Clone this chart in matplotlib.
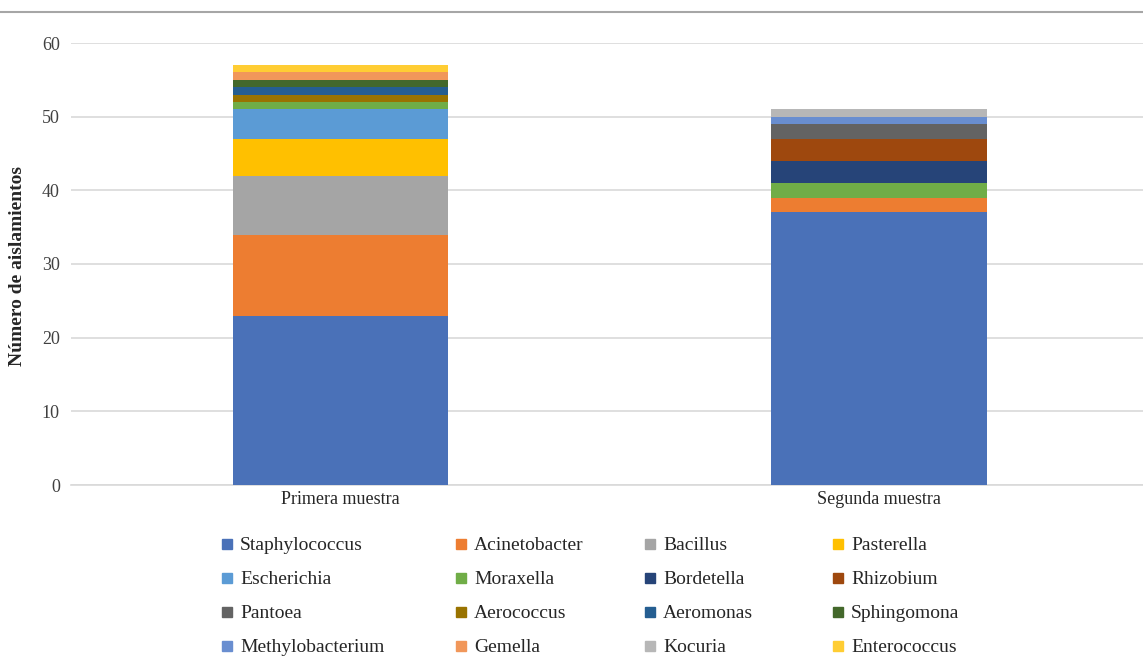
import numpy as np
import matplotlib.pyplot as plt
from matplotlib.patches import Rectangle
from matplotlib.lines import Line2D

# datos
muestras = ["Primera muestra", "Segunda muestra"]
generos = ["Staphylococcus", "Acinetobacter", "Bacillus", "Pasterella",
           "Escherichia", "Moraxella", "Bordetella", "Rhizobium",
           "Pantoea", "Aerococcus", "Aeromonas", "Sphingomona",
           "Methylobacterium", "Gemella", "Kocuria", "Enterococcus"]
primera = [23, 11, 8, 5, 4, 1, 0, 0, 0, 1, 1, 1, 0, 1, 0, 1]
segunda = [37, 2, 0, 0, 0, 2, 3, 3, 2, 0, 0, 0, 1, 0, 1, 0]
colores = ["#4A71B8", "#ED7D31", "#A5A5A5", "#FFC000", "#5B9BD5", "#70AD47",
           "#264478", "#9E480E", "#636363", "#997300", "#255E91", "#43682B",
           "#698ED0", "#F1975A", "#B7B7B7", "#FFCD33"]

plt.rcParams['font.family'] = ['Liberation Serif', 'DejaVu Serif']

fig = plt.figure(figsize=(11.43, 6.57), dpi=100)
ax = fig.add_axes([71/1143, (657-485)/657, 1 - 71/1143, (485-43)/657])

x = np.arange(len(muestras))
base = np.zeros(len(muestras))
for g, a, b, c in zip(generos, primera, segunda, colores):
    vals = np.array([a, b])
    ax.bar(x, vals, 0.4, bottom=base, color=c, label=g, zorder=3)
    base += vals

ax.set_xlim(-0.5, 1.49)
ax.set_ylim(0, 60)
ax.set_yticks(range(0, 61, 10))
ax.set_xticks(x)
ax.set_xticklabels(muestras, fontsize=13, color="#262626")
ax.tick_params(axis='y', labelsize=13, colors="#404040", length=0, pad=8)
ax.tick_params(axis='x', length=0, pad=4)
ax.grid(axis='y', color="#d9d9d9", linewidth=1.2, zorder=0)
for s in ['top', 'right', 'left']:
    ax.spines[s].set_visible(False)
ax.spines['bottom'].set_color("#d9d9d9")
ax.spines['bottom'].set_linewidth(1.2)

fig.text(18/1143, 1 - 266/657, "Número de aislamientos", rotation=90,
         ha='center', va='center', fontsize=14, fontweight='bold', color="#262626")

# linea superior
fig.add_artist(Line2D([0, 1], [1 - 11.5/657, 1 - 11.5/657], color="#a6a6a6", linewidth=1.5))

# leyenda
col_x = [227, 461, 650, 838]
fila_y = [544, 578, 612, 646]
for i, (g, c) in enumerate(zip(generos, colores)):
    cx = col_x[i % 4]
    cy = fila_y[i // 4]
    fig.add_artist(Rectangle(((cx - 5)/1143, 1 - (cy + 5)/657), 10/1143, 10/657,
                             transform=fig.transFigure, color=c))
    fig.text((cx + 13)/1143, 1 - (cy + 1.5)/657, g, ha='left', va='center',
             fontsize=14, color="#262626")

fig.savefig("out.png", dpi=100)
